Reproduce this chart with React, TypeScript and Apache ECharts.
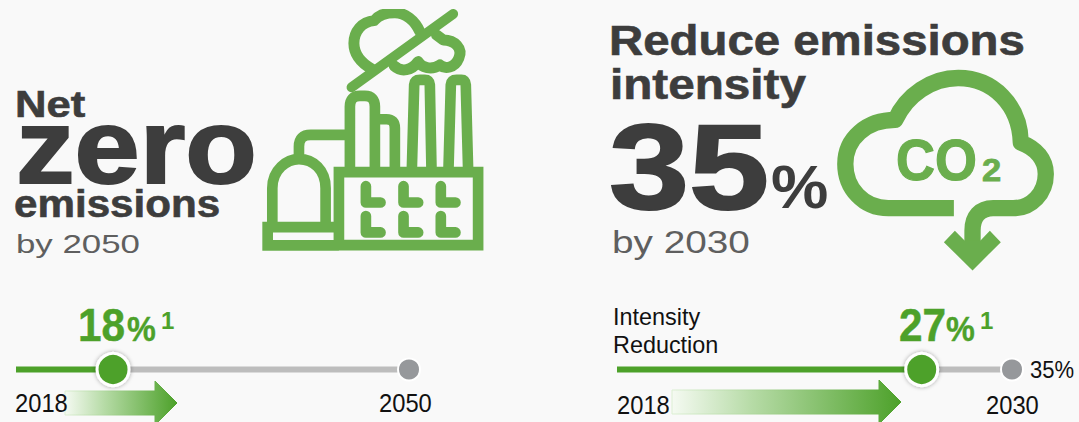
import React, { useEffect, useRef } from "react";
import * as echarts from "echarts";

// Progress toward each target, in percent.
const netZeroProgress = [18];
const netZeroScaleEnd = [72.9];
const intensityProgress = [27];
const intensityTarget = [35];
const netZeroYears = ["2018", "2050"];
const intensityYears = ["2018", "2030"];

const GREEN = "#4da12a";
const ICON = "#6aae4d";
const GREY_TRACK = "#bdbdbd";
const GREY_DOT = "#96989b";
const INK = "#3d3d3d";
const SOFT = "#5f5f5f";
const BLACK = "#111111";
const PAPER = "#f9f9f9";
const FAMILY = '"Liberation Sans", Arial, sans-serif';

// Factory icon, outlined in a 3x drawing space.
const factoryOutline =
  "M252,517 L670,517 L670,736 L252,736 Z " +
  "M252,682 L38,682 L38,737 L252,737 " +
  "M52,680 L52,565 C52,510 95,478 132,478 C175,478 212,510 212,565 L212,680 " +
  "M132,480 L132,440 Q132,405 167,405 L285,405 " +
  "M285,510 L285,320 Q285,288 315,288 L330,288 Q360,288 360,320 L360,510 " +
  "M360,358 L395,358 Q420,358 420,385 L420,510 " +
  "M471,510 L478,255 Q480,240 495,240 L510,240 Q523,240 525,255 L530,510 " +
  "M581,510 L588,255 Q590,240 605,240 L620,240 Q631,240 633,255 L640,510";

const factoryWindows = [333, 446, 558]
  .map((c) => `M${c},559 L${c},608 L${c + 44},608 M${c},649 L${c},698 L${c + 44},698`)
  .join(" ");

const smokeOutline =
  "M352,208 C320,190 297,165 297,130 C297,95 320,65 358,62 C370,45 395,38 420,38 C450,38 480,60 495,95 " +
  "M418,198 C440,218 470,212 490,185 C500,203 530,212 555,195 C570,208 600,205 612,175 C625,145 600,120 565,120 L545,105";

const smokeSlash = "M595,42 L290,262";

// CO2 cloud with its downward arrow, also in a 3x space.
const cloudOutline =
  "M372,415 L175,415 C100,415 46,355 46,282 C46,205 110,150 196,150 C230,75 305,24 385,24 " +
  "C490,24 570,105 573,218 C620,235 648,270 648,312 C648,370 605,415 550,415 L490,415 " +
  "C450,415 428,440 428,482 L428,515";

const cloudArrowHead = "M342,517 L375,483 L404,512 L452,512 L480,483 L513,517 L428,602 Z";

echarts.graphic.registerShape("factoryOutline", echarts.graphic.extendPath(factoryOutline, {}));
echarts.graphic.registerShape("factoryWindows", echarts.graphic.extendPath(factoryWindows, {}));
echarts.graphic.registerShape("smokeOutline", echarts.graphic.extendPath(smokeOutline, {}));
echarts.graphic.registerShape("smokeSlash", echarts.graphic.extendPath(smokeSlash, {}));
echarts.graphic.registerShape("cloudOutline", echarts.graphic.extendPath(cloudOutline, {}));
echarts.graphic.registerShape("cloudArrowHead", echarts.graphic.extendPath(cloudArrowHead, {}));

type TextOpts = { weight?: string; fill?: string; scaleX?: number; stroke?: number };

// Places a text by its left edge and baseline.
function put(text: string, left: number, baseline: number, size: number, opts: TextOpts = {}) {
  const { weight = "normal", fill = BLACK, scaleX = 1, stroke = 0 } = opts;
  return {
    type: "text",
    x: left,
    y: baseline - size * 0.3465,
    scaleX,
    silent: true,
    style: {
      text,
      x: 0,
      y: 0,
      fill,
      font: `${weight} ${size}px ${FAMILY}`,
      textAlign: "left",
      verticalAlign: "middle",
      stroke: stroke ? fill : undefined,
      lineWidth: stroke,
    },
  };
}

function iconPath(
  type: string,
  originX: number,
  originY: number,
  lineWidth: number,
  cap = "round",
  join = "round",
) {
  return {
    type,
    x: originX,
    y: originY,
    scaleX: 1 / 3,
    scaleY: 1 / 3,
    silent: true,
    style: { fill: "none", stroke: ICON, lineWidth, lineCap: cap, lineJoin: join },
  };
}

function fadingArrow(tail: number, neck: number, tip: number, mid: number) {
  const fade = new echarts.graphic.LinearGradient(0, 0, 1, 0, [
    { offset: 0, color: "#f5faf2" },
    { offset: 0.35, color: "#b6dba6" },
    { offset: 1, color: GREEN },
  ]);
  const edge = new echarts.graphic.LinearGradient(0, 0, 1, 0, [
    { offset: 0, color: "#dcefd3" },
    { offset: 0.3, color: "#b6dba6" },
    { offset: 1, color: GREEN },
  ]);
  return {
    type: "polygon",
    silent: true,
    shape: {
      points: [
        [tail, mid - 12],
        [neck, mid - 12],
        [neck, mid - 22],
        [tip, mid],
        [neck, mid + 22],
        [neck, mid + 12],
        [tail, mid + 12],
      ],
    },
    style: { fill: fade, stroke: edge, lineWidth: 1 },
  };
}

function track(gridIndex: number, value: number, end: number) {
  return [
    {
      type: "line",
      xAxisIndex: gridIndex,
      yAxisIndex: gridIndex,
      data: [[value, 0], [end, 0]],
      symbol: "none",
      silent: true,
      z: 1,
      lineStyle: { color: GREY_TRACK, width: 6, cap: "butt" },
    },
    {
      type: "line",
      xAxisIndex: gridIndex,
      yAxisIndex: gridIndex,
      data: [[0, 0], [value, 0]],
      symbol: "none",
      silent: true,
      z: 1,
      lineStyle: { color: GREEN, width: 6, cap: "butt" },
    },
    {
      type: "scatter",
      xAxisIndex: gridIndex,
      yAxisIndex: gridIndex,
      data: [[end, 0]],
      symbolSize: 22,
      silent: true,
      clip: false,
      z: 5,
      itemStyle: { color: GREY_DOT, opacity: 1, borderColor: "#ffffff", borderWidth: 2 },
    },
    {
      type: "scatter",
      xAxisIndex: gridIndex,
      yAxisIndex: gridIndex,
      data: [[value, 0]],
      symbolSize: 32,
      silent: true,
      clip: false,
      z: 6,
      itemStyle: {
        color: GREEN,
        opacity: 1,
        borderColor: "#ffffff",
        borderWidth: 3,
        shadowBlur: 4,
        shadowColor: "rgba(0,0,0,0.35)",
      },
    },
  ];
}

export default function App() {
  const ref = useRef<HTMLDivElement>(null);

  useEffect(() => {
    document.body.style.margin = "0";
    document.body.style.background = PAPER;
    const chart = echarts.init(ref.current!, undefined, { renderer: "svg" });

    const hiddenX = (max: number, gridIndex: number) => ({
      type: "value",
      gridIndex,
      min: 0,
      max,
      show: false,
    });
    const hiddenY = (gridIndex: number) => ({
      type: "value",
      gridIndex,
      min: -1,
      max: 1,
      show: false,
    });

    chart.setOption({
      animation: false,
      backgroundColor: PAPER,
      grid: [
        { left: 16, width: 393, top: 360, height: 19 },
        { left: 617, width: 395, top: 360, height: 19 },
      ],
      xAxis: [hiddenX(netZeroScaleEnd[0], 0), hiddenX(intensityTarget[0], 1)],
      yAxis: [hiddenY(0), hiddenY(1)],
      series: [
        ...track(0, netZeroProgress[0], netZeroScaleEnd[0]),
        ...track(1, intensityProgress[0], intensityTarget[0]),
      ],
      graphic: [
        iconPath("factoryOutline", 255, 0, 32, "butt", "miter"),
        iconPath("factoryWindows", 255, 0, 32),
        iconPath("smokeOutline", 255, 0, 33),
        iconPath("smokeSlash", 255, 0, 30),
        { type: "rect", silent: true, shape: { x: 330, y: 0, width: 110, height: 9 }, style: { fill: PAPER } },
        iconPath("cloudOutline", 830, 70, 49, "butt"),
        {
          type: "cloudArrowHead",
          x: 830,
          y: 70,
          scaleX: 1 / 3,
          scaleY: 1 / 3,
          silent: true,
          style: { fill: ICON },
        },
        fadingArrow(65, 155, 177, 403),
        fadingArrow(672, 879, 901, 402),

        put("Net", 15, 117, 37, { weight: "bold", fill: INK, scaleX: 1.18, stroke: 0.6 }),
        put("zero", 16, 183, 106, { weight: "bold", fill: INK, scaleX: 1.105, stroke: 2 }),
        put("emissions", 14, 217, 38, { weight: "bold", fill: INK, scaleX: 1.11, stroke: 0.6 }),
        put("by 2050", 16, 253, 26, { fill: SOFT, scaleX: 1.34 }),

        put("Reduce emissions", 609, 55, 42, { weight: "bold", fill: INK, scaleX: 1.128, stroke: 0.6 }),
        put("intensity", 610, 99, 42, { weight: "bold", fill: INK, scaleX: 1.135, stroke: 0.6 }),
        put(String(intensityTarget[0]), 609, 209, 120, { weight: "bold", fill: INK, scaleX: 1.2, stroke: 2 }),
        put("%", 771, 208, 62, { weight: "bold", fill: INK, scaleX: 1.04 }),
        put("by 2030", 612, 253, 31, { fill: SOFT, scaleX: 1.25 }),

        put("CO", 896, 180, 58, { weight: "bold", fill: ICON, scaleX: 0.93, stroke: 1.2 }),
        put("2", 982, 181, 32, { weight: "bold", fill: ICON, scaleX: 1.08, stroke: 0.8 }),

        put(String(netZeroProgress[0]), 78, 341, 47, { weight: "bold", fill: GREEN, scaleX: 0.9, stroke: 0.5 }),
        put("%", 127, 341, 36, { weight: "bold", fill: GREEN, scaleX: 0.9, stroke: 0.4 }),
        put("1", 161, 329, 24, { weight: "bold", fill: GREEN }),
        put(netZeroYears[0], 15, 412, 25, { scaleX: 0.95 }),
        put(netZeroYears[1], 379, 412, 25, { scaleX: 0.95 }),

        put("Intensity", 613, 325, 23.4),
        put("Reduction", 613, 353, 23.4),
        put(String(intensityProgress[0]), 899, 341, 47, { weight: "bold", fill: GREEN, scaleX: 0.9, stroke: 0.5 }),
        put("%", 946, 341, 36, { weight: "bold", fill: GREEN, scaleX: 0.9, stroke: 0.4 }),
        put("1", 980, 329, 24, { weight: "bold", fill: GREEN }),
        put(`${intensityTarget[0]}%`, 1030, 378, 24.5, { scaleX: 0.9 }),
        put(intensityYears[0], 617, 414, 25, { scaleX: 0.95 }),
        put(intensityYears[1], 986, 414, 25, { scaleX: 0.95 }),
      ],
    });

    return () => chart.dispose();
  }, []);

  return <div ref={ref} style={{ width: 1079, height: 422 }} />;
}
